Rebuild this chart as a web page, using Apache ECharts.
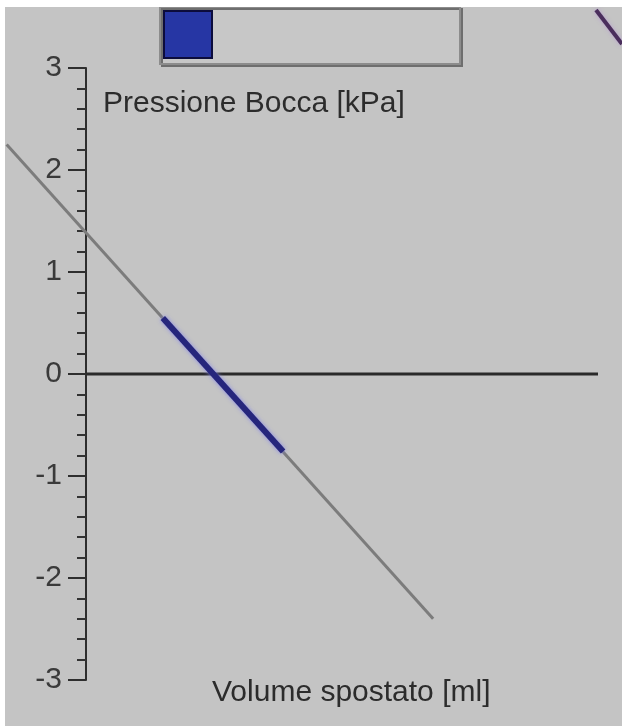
<!DOCTYPE html>
<html>
<head>
<meta charset="utf-8">
<script src="https://cdn.jsdelivr.net/npm/echarts@6/dist/echarts.min.js"></script>
<style>
html,body{margin:0;padding:0;background:#ffffff;}
#chart{position:absolute;left:5px;top:7px;width:617px;height:719px;background:#c4c4c4;}
</style>
</head>
<body>
<div id="chart"></div>
<script>
// y-axis ticks (kPa)
const yTicks = [-3, -2, -1, 0, 1, 2, 3];
// x range (ml, no labels shown)
const xRange = [-15.625, 100];
// fitted line (Volume ml, Pressione kPa)
const fitLine = [[-15.5, 2.25], [67.8, -2.40]];
// measured data segment
const measured = [[15.0, 0.55], [38.5, -0.76]];
// zero reference line
const zeroLine = [[0, 0], [100, 0]];
const xName = 'Volume spostato [ml]';
const yName = 'Pressione Bocca [kPa]';
const legendName = 'Pressione Bocca';

const chart = echarts.init(document.getElementById('chart'));
const fontFam = '"Liberation Sans", Arial, sans-serif';
chart.setOption({
  animation: false,
  backgroundColor: '#c4c4c4',
  graphic: [
    {
      type: 'rect',
      z: 1,
      shape: {x: 155, y: 0, width: 300, height: 57},
      style: {fill: '#c7c7c7', stroke: '#8c8c8c', lineWidth: 2,
              shadowColor: '#6e6e6e', shadowOffsetX: 2, shadowOffsetY: 2, shadowBlur: 0}
    },
    {
      type: 'line',
      z: 1,
      shape: {x1: 591, y1: 3, x2: 617, y2: 37},
      style: {stroke: '#4a2e5c', lineWidth: 4, shadowColor: 'rgba(180,150,210,0.8)', shadowBlur: 4}
    }
  ],
  title: {
    text: xName,
    left: 202,
    top: 666,
    textStyle: {fontFamily: fontFam, fontSize: 30, fontWeight: 'normal', color: '#2c2c2c'}
  },
  legend: {
    left: 155,
    top: 0,
    z: 5,
    padding: [3, 0, 0, 3],
    itemWidth: 48,
    itemHeight: 47,
    itemGap: 0,
    formatter: () => '',
    textStyle: {fontSize: 12},
    data: [{name: legendName, icon: 'rect', itemStyle: {color: '#2636a4', borderColor: '#0c0c3c', borderWidth: 2}}]
  },
  grid: {left: 1, right: 24, top: 61, bottom: 46, outerBoundsMode: 'none', containLabel: false},
  xAxis: {
    type: 'value',
    min: xRange[0],
    max: xRange[1],
    axisLine: {show: false},
    axisTick: {show: false},
    axisLabel: {show: false},
    splitLine: {show: false}
  },
  yAxis: {
    type: 'value',
    position: 'left',
    offset: -80,
    min: yTicks[0],
    max: yTicks[yTicks.length - 1],
    interval: 1,
    name: yName,
    nameLocation: 'end',
    nameGap: -36,
    nameTextStyle: {fontFamily: fontFam, fontSize: 30, color: '#2c2c2c', align: 'left', verticalAlign: 'middle', padding: [0, 0, 0, 17]},
    axisLine: {show: true, onZero: false, lineStyle: {color: '#2e2e2e', width: 2}},
    axisTick: {show: true, length: 18, lineStyle: {color: '#2e2e2e', width: 2}},
    minorTick: {show: true, splitNumber: 5, length: 9, lineStyle: {color: '#333', width: 2}},
    axisLabel: {margin: 24, fontFamily: fontFam, fontSize: 30, color: '#3a3a3a'},
    splitLine: {show: false}
  },
  series: [
    {
      type: 'line',
      name: 'zero',
      data: zeroLine,
      symbol: 'none',
      silent: true,
      lineStyle: {color: '#2a2a2a', width: 3},
      z: 1
    },
    {
      type: 'line',
      name: 'fit',
      data: fitLine,
      symbol: 'none',
      lineStyle: {color: '#7c7c7c', width: 3},
      z: 2
    },
    {
      type: 'line',
      name: legendName,
      data: measured,
      symbol: 'none',
      lineStyle: {color: '#26267c', width: 6, shadowColor: 'rgba(130,130,235,0.9)', shadowBlur: 4},
      itemStyle: {color: '#2636a4'},
      z: 3
    }
  ]
});
</script>
</body>
</html>
